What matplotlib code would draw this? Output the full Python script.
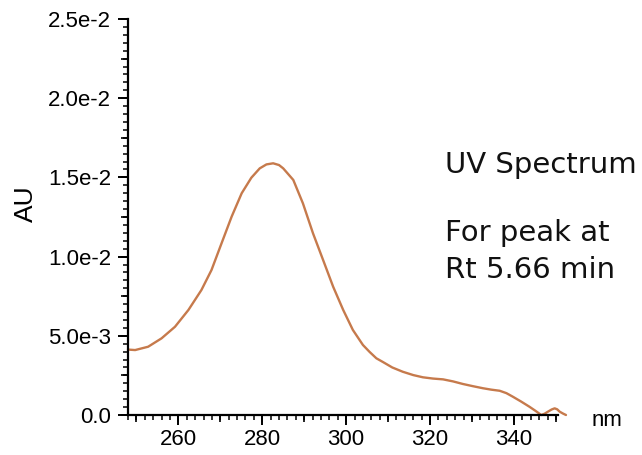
import matplotlib.pyplot as plt
from matplotlib.ticker import MultipleLocator, FixedLocator

plt.rcParams['font.family'] = ['Liberation Sans', 'DejaVu Sans']

# UV absorbance trace for the peak at Rt 5.66 min
wavelength = [248.0, 249.7, 252.8, 256.0, 259.2, 262.4, 265.5, 267.9, 270.3, 272.7,
              275.1, 277.4, 279.4, 281.0, 282.6, 284.0, 285.0, 287.4, 289.7, 292.1,
              294.5, 296.9, 299.3, 301.6, 304.0, 305.6, 307.2, 308.8, 311.0, 313.5,
              316.0, 318.3, 320.7, 323.1, 325.5, 327.8, 330.2, 332.6, 334.6, 336.6,
              338.2, 339.7, 341.7, 343.7, 345.2, 346.5, 347.3, 348.1, 349.0, 349.7,
              350.3, 350.9, 351.7, 352.4]
absorbance = [0.00413, 0.0041, 0.00431, 0.00484, 0.00557, 0.00663, 0.00789, 0.00915,
              0.01084, 0.01252, 0.014, 0.01498, 0.01557, 0.01582, 0.01589, 0.01578,
              0.01557, 0.01484, 0.01336, 0.01147, 0.00979, 0.0081, 0.00663, 0.00537,
              0.00442, 0.00398, 0.00358, 0.00334, 0.003, 0.00273, 0.00252, 0.00238,
              0.0023, 0.00225, 0.00212, 0.00196, 0.00182, 0.00169, 0.0016, 0.00153,
              0.00138, 0.00116, 0.00085, 0.00052, 0.00025, 0.0, 0.00008, 0.00021,
              0.00035, 0.00042, 0.00036, 0.00021, 0.00009, 0.0]

y_ticks = [0.0, 0.005, 0.01, 0.015, 0.02, 0.025]
y_tick_labels = ['0.0', '5.0e-3', '1.0e-2', '1.5e-2', '2.0e-2', '2.5e-2']
x_ticks = [260, 280, 300, 320, 340]

fig = plt.figure(figsize=(6.42, 4.55), dpi=100)
rect = [128 / 642, 1 - 415 / 455, (558 - 128) / 642, (415 - 19) / 455]
ax = fig.add_axes(rect)

ax.plot(wavelength, absorbance, color='#c67a4c', lw=1.7, clip_on=False,
        solid_joinstyle='round', solid_capstyle='round')

ax.set_xlim(248, 350.5)
ax.set_ylim(0, 0.025)
ax.spines['top'].set_visible(False)
ax.spines['right'].set_visible(False)
for s in ('left', 'bottom'):
    ax.spines[s].set_linewidth(1.6)

ax.yaxis.set_major_locator(FixedLocator(y_ticks))
ax.set_yticklabels(y_tick_labels)
ax.yaxis.set_minor_locator(MultipleLocator(0.0005))
ax.xaxis.set_major_locator(FixedLocator(x_ticks))
ax.xaxis.set_minor_locator(MultipleLocator(2))
ax.tick_params(which='major', direction='out', length=7, width=1.4, labelsize=16)
ax.tick_params(axis='y', which='major', pad=5)
ax.tick_params(axis='x', which='major', pad=3)
ax.tick_params(which='minor', direction='out', length=3.5, width=1.1)

# medium ticks every 10 nm / 2.5e-3 on an overlaid frameless axes
mid = fig.add_axes(rect, frameon=False)
mid.set_xlim(ax.get_xlim())
mid.set_ylim(ax.get_ylim())
mid.xaxis.set_major_locator(MultipleLocator(10))
mid.yaxis.set_major_locator(MultipleLocator(0.0025))
mid.tick_params(direction='out', length=5, width=1.2, labelbottom=False, labelleft=False)
mid.patch.set_visible(False)

fig.text(26 / 642, 1 - 204 / 455, 'AU', fontsize=19, rotation=90, va='center', ha='center')
fig.text(592 / 642, 1 - 420 / 455, 'nm', fontsize=16, va='center', ha='left')

fig.text(445 / 642, 1 - 165 / 455, 'UV Spectrum', family='DejaVu Sans', fontsize=21,
         va='center', ha='left', color='#111111')
fig.text(445 / 642, 1 - 233 / 455, 'For peak at', family='DejaVu Sans', fontsize=21,
         va='center', ha='left', color='#111111')
fig.text(445 / 642, 1 - 270 / 455, 'Rt 5.66 min', family='DejaVu Sans', fontsize=21,
         va='center', ha='left', color='#111111')

fig.savefig('out.png', dpi=100)
